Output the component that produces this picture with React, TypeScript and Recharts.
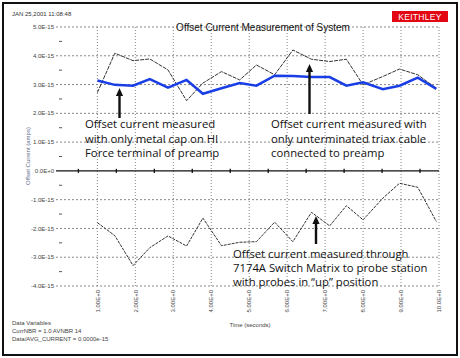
import { ComposedChart, Line, XAxis, YAxis, ReferenceLine } from 'recharts';

// time stamps (seconds) and offset currents (in units of 1E-15 A)
const times = [1.0, 1.46, 1.94, 2.38, 2.86, 3.35, 3.78, 4.27, 4.75, 5.19, 5.67, 6.15, 6.64, 7.12, 7.56, 8.0, 8.52, 8.96, 9.44, 9.93];
const metalCap = [3.14, 2.99, 2.96, 3.19, 2.89, 3.16, 2.68, 2.87, 3.05, 2.96, 3.31, 3.3, 3.26, 3.26, 2.96, 3.08, 2.84, 2.96, 3.24, 2.85];
const triaxCable = [2.72, 4.09, 3.83, 3.89, 3.51, 2.44, 3.05, 3.45, 3.16, 3.68, 3.34, 4.2, 3.88, 3.8, 3.88, 2.99, 3.28, 3.54, 3.34, 2.87];
const switchMatrix = [-1.8, -2.25, -3.29, -2.67, -2.26, -2.61, -1.64, -2.6, -2.48, -2.46, -1.78, -2.46, -1.44, -1.91, -1.21, -1.7, -0.95, -0.43, -0.57, -1.76];

const xTicks = [1, 2, 3, 4, 5, 6, 7, 8, 9, 10];
const xTickLabels = ['1.00E+0', '2.00E+0', '3.00E+0', '4.00E+0', '5.00E+0', '6.00E+0', '7.00E+0', '8.00E+0', '9.00E+0', '10.0E+0'];
const xMinor = [0.5, 1.5, 2.5, 3.5, 4.5, 5.5, 6.5, 7.5, 8.5, 9.5];
const yTicks = [5, 4, 3, 2, 1, 0, -1, -2, -3, -4];
const yTickLabels = ['5.0E-15', '4.0E-15', '3.0E-15', '2.0E-15', '1.0E-15', '0.0E+0', '-1.0E-15', '-2.0E-15', '-3.0E-15', '-4.0E-15'];
const yMinor = [4.5, 3.5, 2.5, 1.5, 0.5, -0.5, -1.5, -2.5, -3.5];

const data = times.map((t, i) => ({
    t,
    cap: metalCap[i],
    triax: triaxCable[i],
    matrix: switchMatrix[i],
}));

const noteFont = '"Open Sans", "Noto Sans", sans-serif';
const smallFont = '"Liberation Sans", Arial, sans-serif';

const XTick = (props: any) => {
    const { x, y, payload } = props;
    const i = xTicks.indexOf(payload.value);
    return (
        <text transform={`translate(${x + 2.2},${y}) rotate(-90)`} textAnchor="end" fontSize={6} fill="#444" fontFamily={smallFont}>
            {xTickLabels[i]}
        </text>
    );
};

const Arrow = ({ x, tip, end }: { x: number; tip: number; end: number }) => (
    <g>
        <line x1={x} y1={tip + 6} x2={x} y2={end} stroke="#111" strokeWidth={2.4} />
        <polygon points={`${x},${tip} ${x - 3.6},${tip + 8} ${x + 3.6},${tip + 8}`} fill="#111" />
    </g>
);

export default function App() {
    return (
        <div style={{ position: 'absolute', left: 0, top: 0, width: 460, height: 358, background: '#fff', overflow: 'hidden' }}>
            <ComposedChart
                width={460}
                height={358}
                data={data}
                margin={{ top: 27, right: 21, left: 6, bottom: 42 }}
            >
                <XAxis
                    dataKey="t"
                    type="number"
                    domain={[-0.09, 10]}
                    ticks={xTicks}
                    axisLine={false}
                    tickLine={false}
                    tickSize={0}
                    tickMargin={4}
                    height={30}
                    tick={<XTick />}
                    interval={0}
                />
                <YAxis
                    type="number"
                    domain={[-4, 5]}
                    ticks={yTicks}
                    width={50}
                    axisLine={false}
                    tickLine={false}
                    tickSize={2}
                    tickMargin={0}
                    interval={0}
                    tickFormatter={(v: number) => yTickLabels[yTicks.indexOf(v)]}
                    tick={{ fontSize: 6, fill: '#444', fontFamily: smallFont }}
                />
                {yTicks.filter(v => v !== 0).map(v => (
                    <ReferenceLine key={'h' + v} y={v} stroke="#888" strokeDasharray="2 2" />
                ))}
                {xTicks.map(v => (
                    <ReferenceLine key={'v' + v} x={v} stroke="#888" strokeDasharray="1 2" />
                ))}
                <ReferenceLine y={0} stroke="#111" strokeWidth={1.3} />
                {xMinor.map(v => (
                    <ReferenceLine key={'xm' + v} segment={[{ x: v, y: -0.07 }, { x: v, y: 0.07 }]} stroke="#111" strokeWidth={1.3} />
                ))}
                {yMinor.map(v => (
                    <ReferenceLine key={'ym' + v} segment={[{ x: -0.01, y: v }, { x: 0.07, y: v }]} stroke="#556" />
                ))}
                <Line type="linear" dataKey="triax" stroke="#333" strokeWidth={1} strokeDasharray="4 1" dot={false} isAnimationActive={false} />
                <Line type="linear" dataKey="matrix" stroke="#333" strokeWidth={1} strokeDasharray="3 1" dot={false} isAnimationActive={false} />
                <Line type="linear" dataKey="cap" stroke="#1a3ee6" strokeWidth={2.5} dot={false} isAnimationActive={false} />
            </ComposedChart>

            <svg width={460} height={358} style={{ position: 'absolute', left: 0, top: 0, pointerEvents: 'none' }}>
                <text x={12} y={16} fontSize={6} fill="#333" fontFamily={smallFont}>JAN 25,2001 11:08:48</text>
                <text x={263} y={31} textAnchor="middle" fontSize={10} fill="#111" fontFamily={smallFont}>Offset Current Measurement of System</text>
                <rect x={392} y={11} width={56} height={11} fill="#e30613" />
                <text x={420} y={19.8} textAnchor="middle" fontSize={8.5} fill="#fff" fontFamily={smallFont} letterSpacing={0.3}>KEITHLEY</text>

                <text transform="translate(30,156) rotate(-90)" textAnchor="middle" fontSize={6} fill="#5a6a8a" fontFamily={smallFont}>Offset Current (amps)</text>
                <text x={250} y={327} textAnchor="middle" fontSize={6} fill="#444" fontFamily={smallFont}>Time (seconds)</text>

                <text x={12} y={325} fontSize={6} fill="#444" fontFamily={smallFont}>Data Variables</text>
                <text x={12} y={333} fontSize={6} fill="#444" fontFamily={smallFont}>CurrNBR = 1.0  AVNBR 14</text>
                <text x={12} y={341} fontSize={6} fill="#444" fontFamily={smallFont}>Data/AVG_CURRENT = 0.0000e-15</text>

                <Arrow x={119.5} tip={88} end={118} />
                <Arrow x={309.5} tip={64} end={114} />
                <Arrow x={316} tip={216} end={244} />

                <g fontSize={11.3} fill="#111" fontFamily={noteFont}>
                    <text x={85} y={128}>Offset current measured</text>
                    <text x={85} y={142.5}>with only metal cap on HI</text>
                    <text x={85} y={157}>Force terminal of preamp</text>

                    <text x={271} y={128}>Offset current measured with</text>
                    <text x={271} y={142.5}>only unterminated triax cable</text>
                    <text x={271} y={157}>connected to preamp</text>

                    <text x={233} y={257.5}>Offset current measured through</text>
                    <text x={233} y={272}>7174A Switch Matrix to probe station</text>
                    <text x={233} y={286}>with probes in “up” position</text>
                </g>
            </svg>
            <div style={{ position: 'absolute', left: 2, top: 2, width: 456, height: 354, border: '2px solid #111', boxSizing: 'border-box' }} />
        </div>
    );
}
